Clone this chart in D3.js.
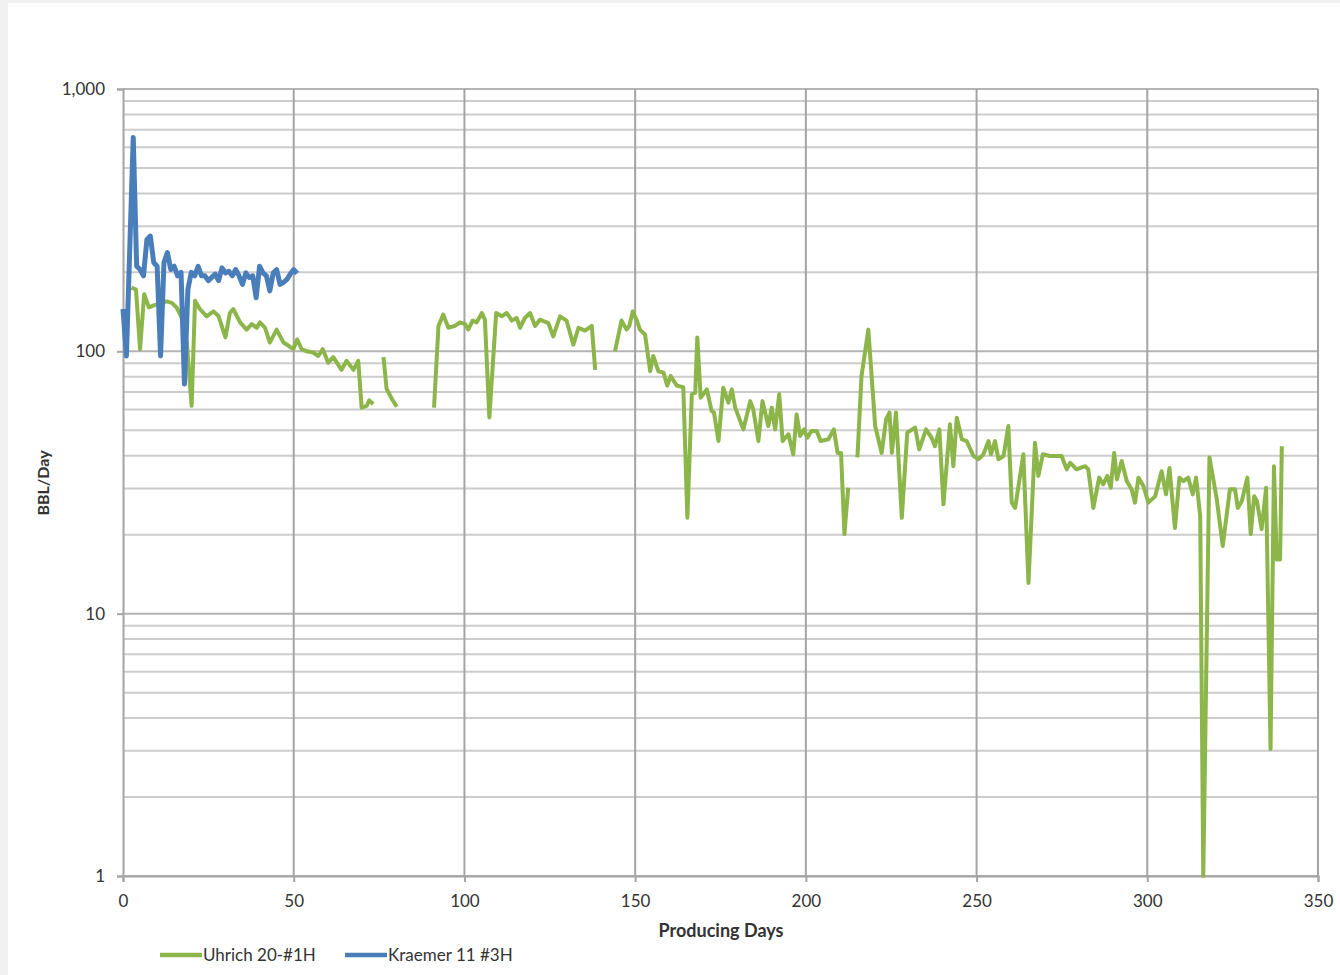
<!DOCTYPE html>
<html>
<head>
<meta charset="utf-8">
<script src="https://cdn.jsdelivr.net/npm/d3@7/dist/d3.min.js"></script>
<style>
  body { margin: 0; background: #f0f0f0; }
  svg { display: block; }
  text { font-family: Lato, "Liberation Sans", sans-serif; fill: #333333; }
</style>
</head>
<body>
<svg id="chart" width="1340" height="975"></svg>
<script>
// x ticks / y ticks
const xTicks = [0, 50, 100, 150, 200, 250, 300, 350];
const yTicks = [1, 10, 100, 1000];

// Kraemer 11 #3H (blue)
const kraemerDays = [0, 1, 3, 4, 5, 6, 7, 8, 9, 10, 11, 12, 13, 14, 15, 16, 17, 18, 19, 20,
  21, 22, 23, 24, 25, 27, 28, 29, 30, 31, 32, 33, 34, 35, 36, 37, 38, 39, 40, 41,
  42, 43, 44, 45, 46, 47, 48, 49, 50, 51];
const kraemerBbl = [145, 96, 654, 211, 205, 194, 267, 275, 218, 211, 96, 218, 238, 205, 211, 194, 200, 75, 172, 200,
  194, 211, 194, 194, 186, 197, 186, 208, 199, 202, 194, 205, 194, 180, 199, 191, 194, 160, 211, 199,
  194, 170, 199, 205, 180, 183, 188, 197, 205, 198];

// Uhrich 20-#1H (green), null = no production reported
const uhrichDays = [2.5, 3.8, 5, 6.2, 7.6, 9.2, 10.3, 12.8, 14.3, 15.7, 17.2, 18.7, 20.1, 21.1, 22.5, 24.5, 26.5, 28, 30, 31.3,
  32.3, 34.3, 36.2, 37.7, 39.2, 40.1, 41.6, 43, 45, 47, 48.5, 49.9, 51, 52.3, 53.8, 55.7, 57.2, 58.5, 60.1, 61.6,
  64, 65.5, 67.5, 68.9, 69.9, 71.4, 72.1, 73.3, 74.8,
  76.3, 77.2, 78.7, 80.2, 85,
  91.1, 92.4, 93.8, 95.3, 97.2, 98.7, 100.2, 101.1, 102.4, 103.6, 105.1, 106, 107.3, 109.3, 110.9, 112.4, 113.9, 115.3, 116.3, 117.7,
  119.2, 120.7, 122.1, 124.6, 126, 128, 129.9, 131.9, 133.4, 135.3, 137.3, 138.3, 141,
  144.1, 146, 147.5, 148.3, 149.3, 150.5, 151.4, 152.9, 154.4, 155.3, 156.8, 158.3, 159.4, 160.4, 162.2, 164.1, 165.3, 166.6, 167.6, 168.2,
  169.2, 171, 172.4, 173.1, 174.4, 175.8, 177.3, 178.3, 179.3, 181.7, 183.7, 184.6, 186.1, 187.3, 189, 190, 191, 192.2, 193.2, 194.9,
  196.3, 197.3, 198.3, 199.5, 200.4, 201.7, 203.2, 204.3, 206.6, 208.2, 209.3, 210.3, 211.3, 212.4, 213.8,
  215.1, 216.3, 218.3, 220.3, 222.2, 223.5, 224.5, 225.2, 226.4, 228.1, 229.7, 232, 233.2, 235.2, 236.8, 237.8, 239.1, 240.3, 242.2, 243.2,
  244.2, 245.7, 247.1, 249.1, 250.6, 252, 253.5, 254.2, 255.4, 256.4, 257.9, 259.3, 260.3, 261.3, 263.7, 265.2, 267.1, 268.1, 269.4, 271.5,
  274.9, 276.4, 277.4, 279.3, 281.8, 282.7, 284.2, 285.9, 287.1, 288.3, 289.3, 290.3, 291.1, 292.5, 294, 295.4, 296.4, 297.4, 298.9, 300.3,
  302.3, 304.2, 305.5, 306.5, 308.1, 309.4, 310.6, 312, 313.3, 314.3, 315.5, 316.4, 318.2, 320.3, 322.1, 324.2, 325.7, 326.5, 327.7, 329.3,
  330.3, 331.3, 332.1, 333.5, 334.8, 336.1, 337.1, 337.9, 338.9, 339.4];
const uhrichBbl = [175, 172, 102, 165, 147, 150, 151, 155, 153, 147, 134, 108, 62, 156, 145, 136, 142, 136, 113, 140,
  145, 129, 121, 127, 123, 129, 123, 108, 121, 108, 105, 102, 111, 102, 100, 99, 96, 102, 90.5, 95,
  85, 92, 85, 92, 61, 62, 65, 63, null,
  95, 72, 66, 61.5, null,
  61, 125, 138, 123, 125, 129, 127, 121, 131, 129, 140, 132, 56, 140, 136, 140, 131, 134, 123, 134,
  140, 125, 132, 128, 114, 136, 131, 106, 123, 120, 125, 85, null,
  100, 131, 121, 125, 142, 131, 121, 116, 84, 96, 84, 83, 74, 80.5, 74, 73, 23.2, 68.6, 69.5, 113,
  66.6, 71.6, 59.3, 58.4, 45.5, 72.7, 63.7, 71.6, 61, 50.4, 64.6, 60, 45.5, 64.6, 51.9, 61, 50.4, 68.6, 45.5, 48.3,
  40.5, 57.5, 47.6, 50.4, 46.9, 49.7, 49.7, 45.5, 46.2, 50.4, 41, 41, 20.1, 30.2, null,
  39.4, 80.5, 121, 51.9, 41, 55.1, 58.4, 41, 58.4, 23.2, 49, 51.2, 42.3, 50.4, 46.9, 43.5, 50.4, 26.1, 52.7, 36.5,
  55.8, 46.2, 45.5, 39.9, 38.8, 40.5, 45.5, 40.5, 45.5, 38.8, 39.9, 51.9, 26.5, 25.3, 40.5, 13.1, 44.8, 33.5, 40.5, 39.9,
  39.9, 35.5, 37.6, 35.5, 36.5, 35.5, 25.3, 33, 31.1, 33.5, 30.2, 41, 32.5, 38.2, 32, 29.8, 26.5, 33, 30.6, 26.5,
  28, 34.9, 28.5, 35.9, 21.2, 33, 32, 33, 28.5, 33, 23.5, 1.0, 39.4, 27.6, 18.1, 29.8, 29.8, 25.3, 26.9, 33,
  20.1, 28, 26.9, 21, 30.2, 3.05, 36.5, 16.1, 16.1, 43.5];

const seriesNames = ["Uhrich 20-#1H", "Kraemer 11 #3H"];
const seriesColors = ["#8cb54a", "#4a7ebb"];

const plot = { left: 123, right: 1318, top: 89, bottom: 876 };

const svg = d3.select("#chart");

svg.append("rect")
  .attr("x", 8).attr("y", 3)
  .attr("width", 1332).attr("height", 972)
  .attr("fill", "#ffffff");

const x = d3.scaleLinear().domain([0, 350]).range([plot.left, plot.right]);
const y = d3.scaleLog().domain([1, 1000]).range([plot.bottom, plot.top]);

// minor horizontal grid
const minorVals = [];
[1, 10, 100].forEach(d => {
  for (let k = 2; k <= 9; k++) minorVals.push(d * k);
});

const grid = svg.append("g").attr("class", "grid");

grid.selectAll(".minor")
  .data(minorVals)
  .join("line")
  .attr("class", "minor")
  .attr("x1", plot.left).attr("x2", plot.right)
  .attr("y1", d => y(d)).attr("y2", d => y(d))
  .attr("stroke", "#cccccc")
  .attr("stroke-width", 2);

grid.selectAll(".major")
  .data(yTicks)
  .join("line")
  .attr("class", "major")
  .attr("x1", plot.left).attr("x2", plot.right)
  .attr("y1", d => y(d)).attr("y2", d => y(d))
  .attr("stroke", "#b4b4b4")
  .attr("stroke-width", 2);

grid.selectAll(".vert")
  .data(xTicks.slice(1))
  .join("line")
  .attr("class", "vert")
  .attr("x1", d => x(d)).attr("x2", d => x(d))
  .attr("y1", plot.top).attr("y2", plot.bottom)
  .attr("stroke", "#a4a4a4")
  .attr("stroke-width", 2);

// axes
const yAxis = d3.axisLeft(y)
  .tickValues(yTicks)
  .tickFormat(d3.format(","))
  .tickSize(6)
  .tickPadding(12);

const xAxis = d3.axisBottom(x)
  .tickValues(xTicks)
  .tickSize(6)
  .tickPadding(13);

const gy = svg.append("g")
  .attr("transform", `translate(${plot.left},0)`)
  .call(yAxis);

const gx = svg.append("g")
  .attr("transform", `translate(0,${plot.bottom})`)
  .call(xAxis);

[gx, gy].forEach(g => {
  g.select(".domain").attr("stroke", "#a4a4a4").attr("stroke-width", 2);
  g.selectAll(".tick line").attr("stroke", "#a4a4a4").attr("stroke-width", 2);
  g.selectAll(".tick text")
    .attr("fill", "#333333")
    .style("font-size", "17px")
    .style("font-family", "Lato, 'Liberation Sans', sans-serif");
});

// series
const uhrich = uhrichDays.map((d, i) => ({ day: d, v: uhrichBbl[i] }));
const kraemer = kraemerDays.map((d, i) => ({ day: d, v: kraemerBbl[i] }));

const line = d3.line()
  .defined(p => p.v != null)
  .x(p => x(p.day))
  .y(p => y(p.v));

svg.append("path")
  .attr("d", line(uhrich))
  .attr("fill", "none")
  .attr("stroke", seriesColors[0])
  .attr("stroke-width", 4)
  .attr("stroke-linejoin", "round");

svg.append("path")
  .attr("d", line(kraemer))
  .attr("fill", "none")
  .attr("stroke", seriesColors[1])
  .attr("stroke-width", 5)
  .attr("stroke-linejoin", "round");

// axis titles
svg.append("text")
  .attr("transform", "translate(49,483) rotate(-90)")
  .attr("text-anchor", "middle")
  .style("font-size", "16px")
  .style("font-weight", "bold")
  .text("BBL/Day");

svg.append("text")
  .attr("x", 721).attr("y", 937)
  .attr("text-anchor", "middle")
  .style("font-size", "18px")
  .style("font-weight", "bold")
  .text("Producing Days");

// legend
const legendX = [160, 345];
const legend = svg.append("g");
seriesNames.forEach((name, i) => {
  legend.append("line")
    .attr("x1", legendX[i]).attr("x2", legendX[i] + 42)
    .attr("y1", 955).attr("y2", 955)
    .attr("stroke", seriesColors[i])
    .attr("stroke-width", 4.5);
  legend.append("text")
    .attr("x", legendX[i] + 43).attr("y", 961)
    .style("font-size", "17px")
    .text(name);
});
</script>
</body>
</html>
